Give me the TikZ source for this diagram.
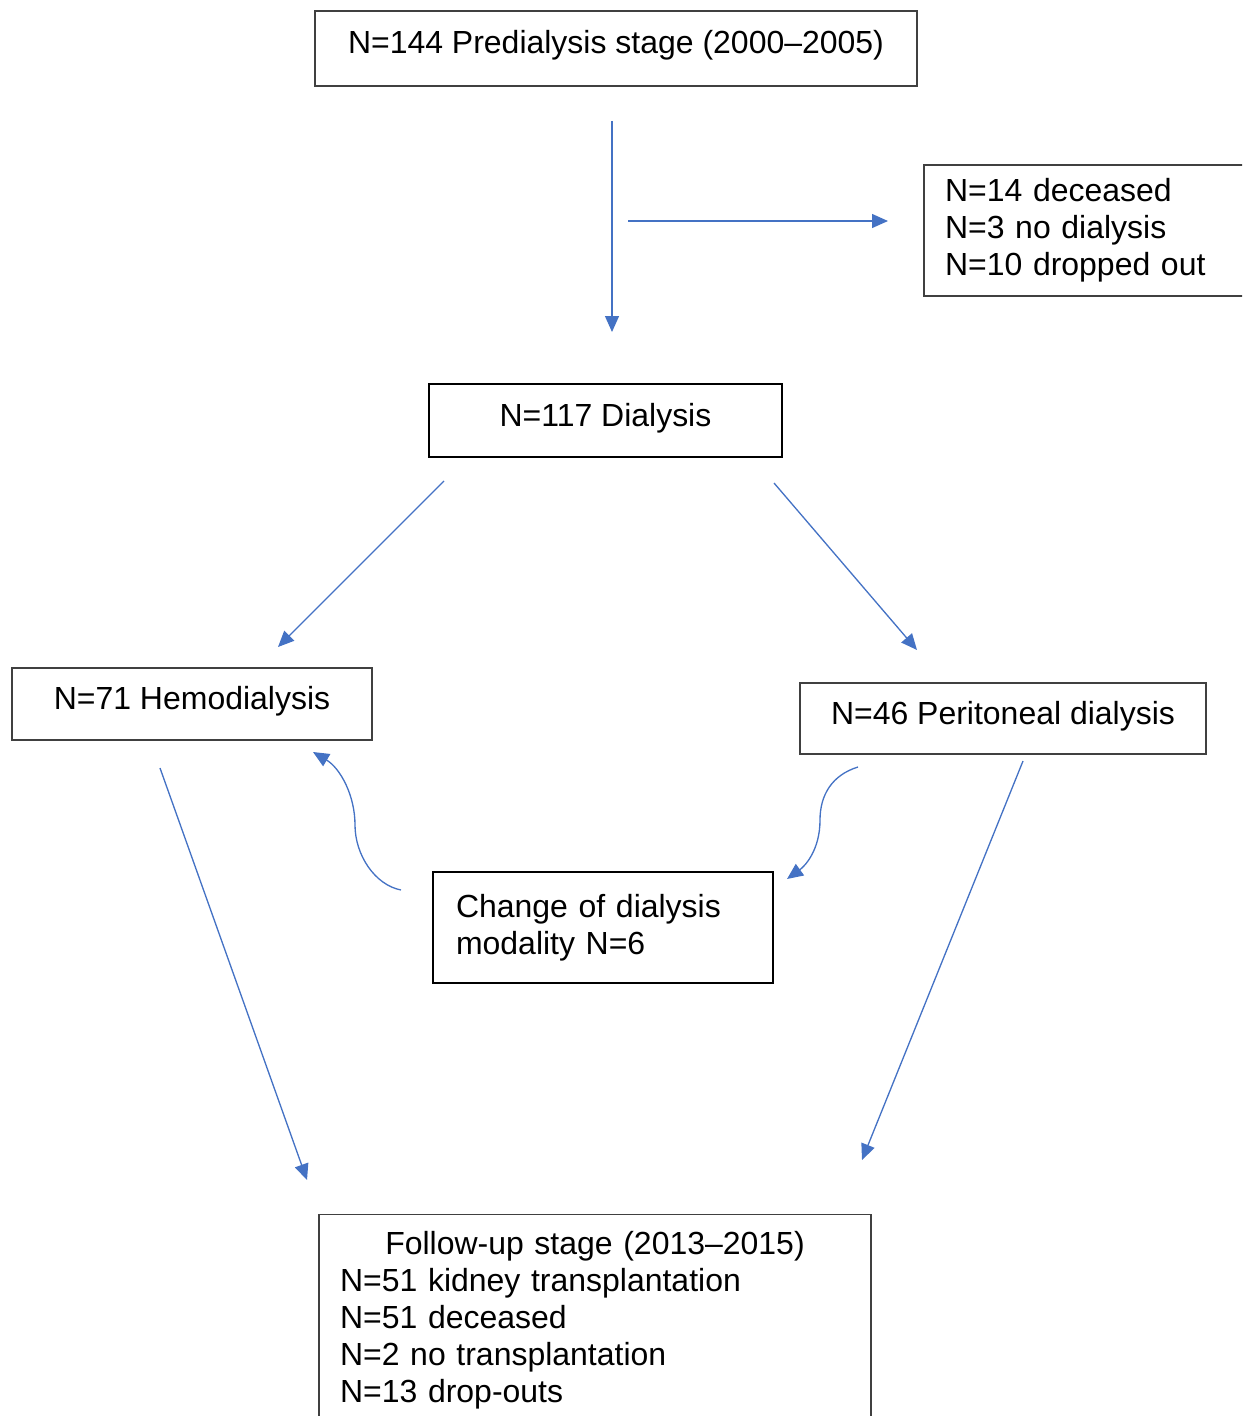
\documentclass[tikz,border=0pt]{standalone}
\usepackage{fontspec}
\setmainfont{Liberation Sans}
\usepackage{tikz}
\usetikzlibrary{arrows.meta}
\definecolor{linkblue}{HTML}{4472C4}
\definecolor{boxgray}{HTML}{404040}

\begin{document}
\begin{tikzpicture}[
  x=0.02cm, y=-0.02cm,
  font=\fontsize{18.2pt}{21pt}\selectfont,
  stagebox/.style = {draw=boxgray, line width=0.7pt, inner sep=0pt, text height=0.47cm, text depth=0.25cm},
  mainbox/.style  = {stagebox, draw=black, line width=1.5pt},
  listbox/.style  = {draw=boxgray, line width=0.7pt, inner xsep=0.42cm, align=left},
  arr/.style      = {-{Triangle[length=0.32cm,width=0.28cm]}, line width=0.75pt, color=linkblue},
]
\useasboundingbox (0,0) rectangle (1242,1416);
\clip (0,0) rectangle (1242,1416);

% boxes
\node[stagebox, minimum width=12.04cm, minimum height=1.5cm] (pre) at (616,48.5) {N=144 Predialysis stage (2000--2005)};
\node[listbox, text width=6.08cm, minimum height=2.62cm] (excl) at (1097,230.5) {N=14 deceased\\N=3 no dialysis\\N=10 dropped out};
\node[mainbox, minimum width=7.06cm, minimum height=1.46cm] (dial) at (605.5,420.5) {N=117 Dialysis};
\node[stagebox, minimum width=7.2cm, minimum height=1.44cm] (hemo) at (192,704) {N=71 Hemodialysis};
\node[stagebox, minimum width=8.12cm, minimum height=1.42cm] (pd) at (1003,718.5) {N=46 Peritoneal dialysis};
\node[listbox, draw=black, line width=1.5pt, inner xsep=0.46cm, text width=5.88cm, minimum height=2.22cm] (chg) at (603,927.5) {Change of dialysis\\modality N=6};
\node[listbox, anchor=north, inner ysep=0.34cm, text width=10.2cm] (follow) at (595,1214) {\makebox[\linewidth][c]{Follow-up stage (2013--2015)}\\N=51 kidney transplantation\\N=51 deceased\\N=2 no transplantation\\N=13 drop-outs};

% arrow ends
\coordinate (pre-s) at (612,121);
\coordinate (dial-n) at (612,332);
\coordinate (excl-a) at (628,221);
\coordinate (excl-w) at (888,221);
\coordinate (dial-sw) at (444,481);
\coordinate (hemo-n) at (278,647);
\coordinate (dial-se) at (774,483);
\coordinate (pd-n) at (917,650);
\coordinate (hemo-s) at (160,768);
\coordinate (follow-nw) at (307,1180);
\coordinate (pd-s) at (1023,761);
\coordinate (follow-ne) at (862,1160);
\coordinate (pd-sw) at (858,767);
\coordinate (chg-e) at (787,879);
\coordinate (chg-w) at (401,890);
\coordinate (hemo-se) at (313,752);

% connectors
\draw[arr] (pre-s) -- (dial-n);
\draw[arr] (excl-a) -- (excl-w);
\draw[arr] (dial-sw) -- (hemo-n);
\draw[arr] (dial-se) -- (pd-n);
\draw[arr] (hemo-s) -- (follow-nw);
\draw[arr] (pd-s) -- (follow-ne);
\draw[arr] (pd-sw) .. controls (832,775) and (820,795) .. (820,820) .. controls (820,850) and (805,866) .. (chg-e);
\draw[arr] (chg-w) .. controls (375,885) and (355,855) .. (355,825) .. controls (355,795) and (340,768) .. (hemo-se);
\end{tikzpicture}
\end{document}
